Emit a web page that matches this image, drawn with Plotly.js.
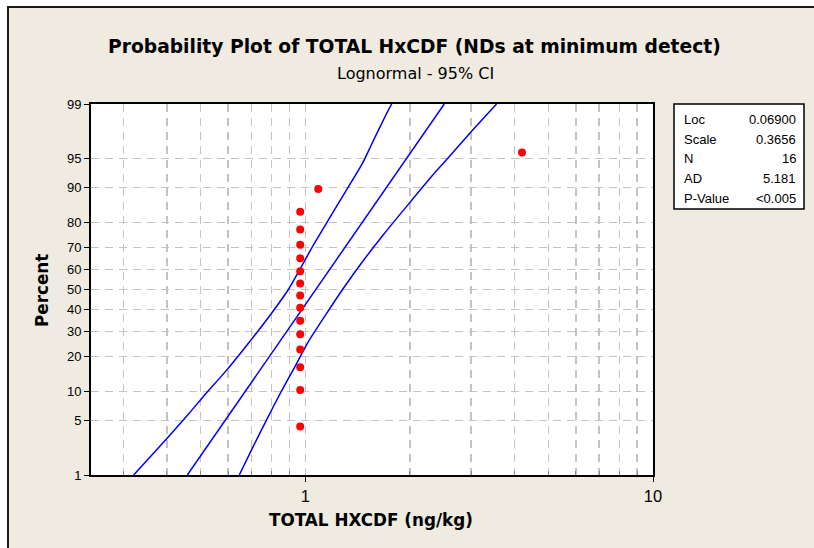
<!DOCTYPE html>
<html>
<head>
<meta charset="utf-8">
<script src="https://cdn.plot.ly/plotly-3.0.1.min.js"></script>
<style>
  html, body { margin: 0; padding: 0; background: #ffffff; }
  #bg { position: absolute; left: 7px; top: 6px; width: 807px; height: 542px;
        background: #EFEBE1; border-top: 2px solid #1a1a1a; border-left: 2px solid #1a1a1a; box-sizing: border-box; }
  #chart { position: absolute; left: 0; top: 0; width: 814px; height: 548px; }
</style>
</head>
<body>
<div id="bg"></div>
<div id="chart"></div>
<script>
// ---------- data ----------
const dataValues  = [0.967, 0.967, 0.967, 0.967, 0.967, 0.967, 0.967, 0.967, 0.967, 0.967, 0.967, 0.967, 0.967, 0.967, 1.09, 4.2];
const dataPercent = [4.3, 10.4, 16.5, 22.6, 28.7, 34.8, 40.9, 47.0, 53.0, 59.1, 65.2, 71.3, 77.4, 83.5, 89.6, 95.7];

const fitX   = [0.458, 2.51];
const fitPct = [1, 99];

const ciLeftX   = [0.321, 0.403, 0.463, 0.508, 0.594, 0.710, 0.800, 0.894, 1.056, 1.236, 1.46, 1.548, 1.705, 1.772];
const ciLeftPct = [1, 3.2, 6.0, 8.9, 15.6, 27.7, 38.3, 50, 71.2, 85.5, 94.3, 96.5, 98.57, 99];

const ciRightX   = [0.646, 0.700, 0.774, 0.848, 0.934, 1.014, 1.136, 1.28, 1.46, 1.675, 1.97, 2.37, 2.57, 3.08, 3.55];
const ciRightPct = [1, 2.2, 5.1, 9.7, 16.7, 25, 36.7, 50, 63.6, 75.3, 85.5, 93, 95, 97.9, 99];

const percentTicks = [1, 5, 10, 20, 30, 40, 50, 60, 70, 80, 90, 95, 99];
const xMajorTicks  = [1, 10];
const xMinorTicks  = [0.3, 0.4, 0.5, 0.6, 0.7, 0.8, 0.9, 2, 3, 4, 5, 6, 7, 8, 9];

const statLabels = ['Loc', 'Scale', 'N', 'AD', 'P-Value'];
const statValues = ['0.06900', '0.3656', '16', '5.181', '<0.005'];

// ---------- probability (normal) scale ----------
function normInv(p) {
  const a=[-3.969683028665376e+01,2.209460984245205e+02,-2.759285104469687e+02,1.383577518672690e+02,-3.066479806614716e+01,2.506628277459239e+00];
  const b=[-5.447609879822406e+01,1.615858368580409e+02,-1.556989798598866e+02,6.680131188771972e+01,-1.328068155288572e+01];
  const c=[-7.784894002430293e-03,-3.223964580411365e-01,-2.400758277161838e+00,-2.549732539343734e+00,4.374664141464968e+00,2.938163982698783e+00];
  const d=[7.784695709041462e-03,3.224671290700398e-01,2.445134137142996e+00,3.754408661907416e+00];
  const pl = 0.02425, ph = 1 - pl;
  let q, r;
  if (p < pl) { q = Math.sqrt(-2*Math.log(p)); return (((((c[0]*q+c[1])*q+c[2])*q+c[3])*q+c[4])*q+c[5])/((((d[0]*q+d[1])*q+d[2])*q+d[3])*q+1); }
  if (p <= ph) { q = p - 0.5; r = q*q; return (((((a[0]*r+a[1])*r+a[2])*r+a[3])*r+a[4])*r+a[5])*q/(((((b[0]*r+b[1])*r+b[2])*r+b[3])*r+b[4])*r+1); }
  q = Math.sqrt(-2*Math.log(1-p)); return -(((((c[0]*q+c[1])*q+c[2])*q+c[3])*q+c[4])*q+c[5])/((((d[0]*q+d[1])*q+d[2])*q+d[3])*q+1);
}
const pz = pct => normInv(pct / 100);

const BLUE = '#0000ff';
const GRID = '#c3c3c3';
const FONT = 'Liberation Sans, Arial, sans-serif';
const TFONT = 'DejaVu Sans, Verdana, sans-serif';

const traces = [
  { x: ciLeftX,  y: ciLeftPct.map(pz),  mode: 'lines', line: { color: BLUE, width: 1.5, shape: 'spline', smoothing: 0.6 }, hoverinfo: 'skip' },
  { x: fitX,     y: fitPct.map(pz),     mode: 'lines', line: { color: BLUE, width: 1.5 }, hoverinfo: 'skip' },
  { x: ciRightX, y: ciRightPct.map(pz), mode: 'lines', line: { color: BLUE, width: 1.5, shape: 'spline', smoothing: 0.6 }, hoverinfo: 'skip' },
  { x: dataValues, y: dataPercent.map(pz), mode: 'markers', marker: { color: '#ff0000', size: 8 } }
];

// plot area in pixels
const L = 91, R = 653, T = 104, B = 475;
const W = R - L, H = B - T;
const px = v => (v - L) / W;
const py = v => 1 - (v - T) / H;

const annotations = [
  { text: '<b>Probability Plot of TOTAL HxCDF (NDs at minimum detect)</b>', x: px(414.5), y: py(47), xref: 'paper', yref: 'paper',
    showarrow: false, xanchor: 'center', yanchor: 'middle', font: { family: TFONT, size: 18.7, color: '#000' } },
  { text: 'Lognormal - 95% CI', x: px(415), y: py(73), xref: 'paper', yref: 'paper',
    showarrow: false, xanchor: 'center', yanchor: 'middle', font: { family: TFONT, size: 16, color: '#000' } },
  { text: '<b>TOTAL HXCDF (ng/kg)</b>', x: px(371), y: py(520), xref: 'paper', yref: 'paper',
    showarrow: false, xanchor: 'center', yanchor: 'middle', font: { family: TFONT, size: 16.8, color: '#000' } },
  { text: '<b>Percent</b>', x: px(42), y: py(291), xref: 'paper', yref: 'paper', textangle: -90,
    showarrow: false, xanchor: 'center', yanchor: 'middle', font: { family: TFONT, size: 16.8, color: '#000' } }
];
const rowY = [119, 139, 158, 178, 198];
statLabels.forEach((lab, i) => {
  annotations.push({ text: lab, x: px(682), y: py(rowY[i]), xref: 'paper', yref: 'paper', showarrow: false,
    xanchor: 'left', yanchor: 'middle', font: { family: FONT, size: 13, color: '#000' } });
  annotations.push({ text: statValues[i], x: px(797.5), y: py(rowY[i]), xref: 'paper', yref: 'paper', showarrow: false,
    xanchor: 'right', yanchor: 'middle', font: { family: FONT, size: 13, color: '#000' } });
});

const layout = {
  width: 814, height: 548,
  margin: { l: L, r: 814 - R, t: T, b: 548 - B, pad: 0 },
  paper_bgcolor: 'rgba(0,0,0,0)',
  plot_bgcolor: '#ffffff',
  showlegend: false,
  font: { family: FONT, size: 13, color: '#000' },
  xaxis: {
    type: 'log', range: [Math.log10(0.242), 1],
    tickmode: 'array', tickvals: xMajorTicks, ticktext: xMajorTicks.map(String),
    ticks: 'outside', ticklen: 5, tickwidth: 1, tickcolor: '#000',
    tickfont: { family: FONT, size: 16.5, color: '#000' },
    showgrid: true, gridcolor: GRID, gridwidth: 1.5, griddash: '8px,6px',
    minor: { tickmode: 'array', tickvals: xMinorTicks, ticks: 'inside', ticklen: 4, tickcolor: '#888',
             showgrid: true, gridcolor: GRID, gridwidth: 1.5, griddash: '8px,6px' },
    showline: true, linecolor: '#000', linewidth: 2, mirror: true,
    zeroline: false, fixedrange: true
  },
  yaxis: {
    range: [pz(1), pz(99)],
    tickmode: 'array', tickvals: percentTicks.map(pz), ticktext: percentTicks.map(String),
    ticks: 'outside', ticklen: 5, tickwidth: 1, tickcolor: '#000',
    tickfont: { family: FONT, size: 13, color: '#000' },
    showgrid: true, gridcolor: GRID, gridwidth: 1.5, griddash: '8px,6px',
    showline: true, linecolor: '#000', linewidth: 2, mirror: true,
    zeroline: false, fixedrange: true
  },
  shapes: [
    { type: 'rect', xref: 'paper', yref: 'paper', x0: px(674), x1: px(804), y0: py(209), y1: py(104),
      line: { color: '#000', width: 1.5 }, fillcolor: '#ffffff', layer: 'below' }
  ],
  annotations: annotations
};

Plotly.newPlot('chart', traces, layout, { staticPlot: true, displayModeBar: false });
</script>
</body>
</html>
